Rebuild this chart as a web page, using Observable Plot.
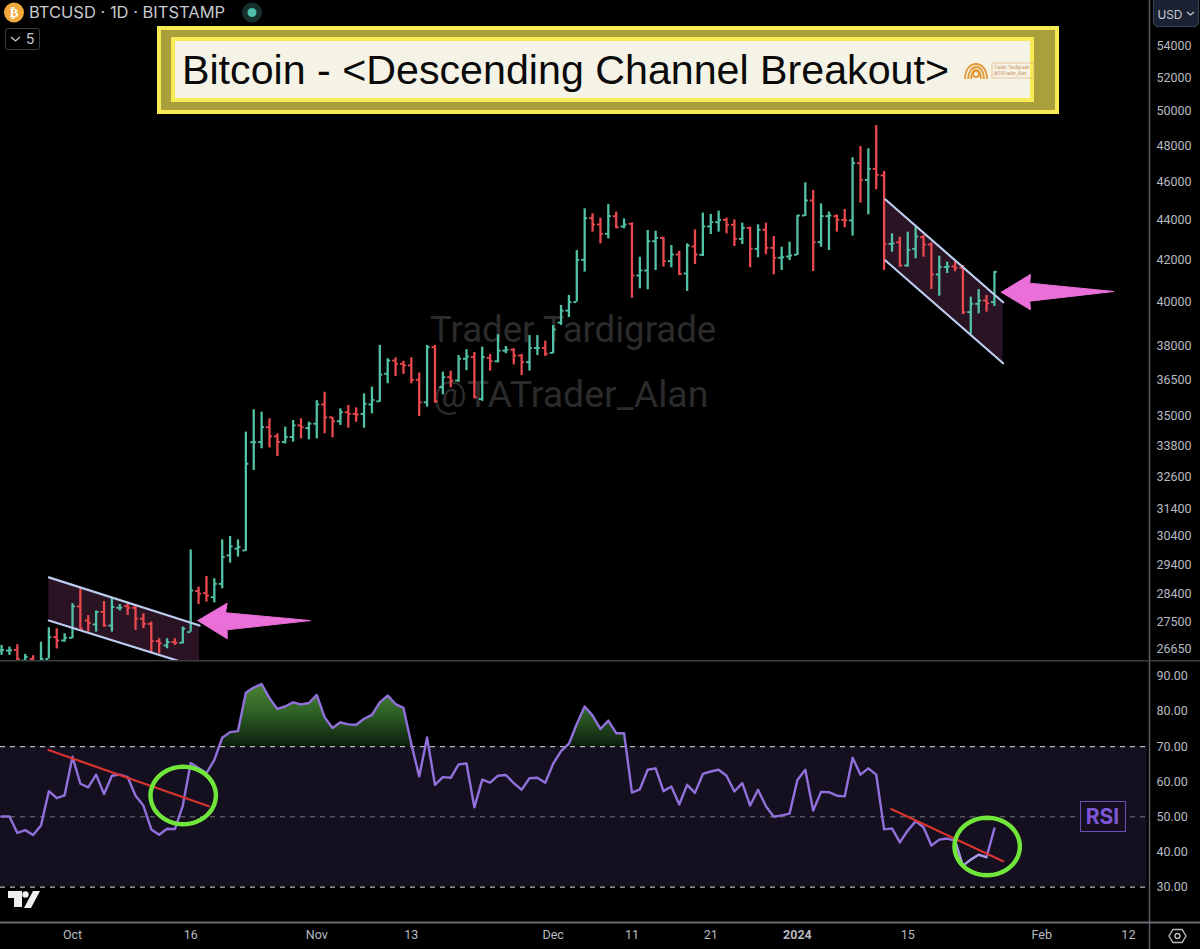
<!DOCTYPE html>
<html>
<head>
<meta charset="utf-8">
<script src="https://cdn.jsdelivr.net/npm/d3@7"></script>
<script src="https://cdn.jsdelivr.net/npm/@observablehq/plot@0.6"></script>
<style>
html,body{margin:0;padding:0;background:#000;}
#page{position:relative;width:1200px;height:949px;overflow:hidden;background:#000;font-family:Inter,sans-serif;}
#page svg{display:block;overflow:hidden;}
#top,#bot{position:absolute;left:0;}
#top{top:0;z-index:2;}
#bot{top:660px;z-index:2;}
.abs{position:absolute;box-sizing:border-box;}
.wm{position:absolute;color:#2b2b2b;font:36.6px Roboto,sans-serif;white-space:nowrap;z-index:1;}
</style>
</head>
<body>
<div id="page">
  <div class="wm" id="wm1" style="left:430px;top:308px;">Trader Tardigrade</div>
  <div class="wm" id="wm2" style="left:433px;top:372px;font-size:37.5px;">@TATrader_Alan</div>
  <div id="top"></div>
  <div id="bot"></div>

  <!-- header -->
  <svg class="abs" style="left:0;top:0;z-index:3;" width="270" height="26">
    <circle cx="14" cy="12.5" r="10" fill="#f0a83a"/>
    <text x="14" y="17" text-anchor="middle" font-family="Roboto" font-weight="700" font-size="13" fill="#fff">₿</text>
    <text x="29" y="18" font-family="Inter" font-size="16.5" fill="#c6c8ce">BTCUSD · 1D · BITSTAMP</text>
    <circle cx="252" cy="12.5" r="10" fill="#16302c"/>
    <circle cx="252" cy="12.5" r="4.5" fill="#4fbfa8"/>
  </svg>
  <div class="abs" style="left:5px;top:28px;width:35px;height:22px;border:1px solid #3a3d46;border-radius:3px;z-index:3;"></div>
  <svg class="abs" style="left:5px;top:28px;z-index:3;" width="35" height="22">
    <path d="M6 9 L10.5 13 L15 9" fill="none" stroke="#c6c8ce" stroke-width="1.3"/>
    <text x="21" y="16" font-family="Inter" font-size="14" fill="#c6c8ce">5</text>
  </svg>
  <div class="abs" style="left:1153px;top:-4px;width:46px;height:31px;border:1px solid #3a4356;border-radius:5px;background:#1b2233;z-index:3;color:#c6c8ce;font:11.8px Inter,sans-serif;line-height:36px;padding-left:3.5px;">USD</div>
  <svg class="abs" style="left:1185px;top:9px;z-index:4;" width="12" height="10"><path d="M2 3 L5.500 6 L9 3" fill="none" stroke="#c6c8ce" stroke-width="1.300"/></svg>

  <!-- banner -->
  <div class="abs" style="left:157px;top:26px;width:902px;height:88px;background:#f6ea55;z-index:3;"></div>
  <div class="abs" style="left:161px;top:30px;width:894px;height:79.5px;background:#a9a03b;z-index:3;"></div>
  <div class="abs" style="left:171px;top:37px;width:863px;height:65px;background:#f6ea55;z-index:3;"></div>
  <div class="abs" id="title" style="left:175px;top:41px;width:855px;height:56.5px;background:#f5f2e6;z-index:3;color:#0a0a0a;font:41.2px 'Liberation Sans',sans-serif;line-height:59px;padding-left:7px;white-space:nowrap;">Bitcoin - &lt;Descending Channel Breakout&gt;</div>
  <svg class="abs" style="left:960px;top:55px;z-index:4;" width="76" height="30">
    <g fill="none" stroke="#e39a36" stroke-width="1.800">
      <path d="M5 24 C5 4 27 4 27 24"/>
      <path d="M8 24 C9 8 24 8 24 24"/>
      <path d="M11 24 C12 12 21 12 21 24"/>
      <circle cx="16" cy="19" r="3"/>
    </g>
    <rect x="32" y="8" width="42" height="15" fill="none" stroke="#e3b27a" stroke-width="0.700"/>
    <text x="34" y="14" font-family="Inter" font-size="4.200" fill="#c58a4a">Trader Tardigrade</text>
    <text x="34" y="20" font-family="Inter" font-size="4.200" fill="#c58a4a">@TATrader_Alan</text>
  </svg>

  <!-- TradingView logo -->
  <svg class="abs" style="left:0;top:880px;z-index:3;" width="50" height="36">
    <g fill="#f0f0f0">
      <path d="M8 11 H22 V27 H14 V18 H8 Z"/>
      <circle cx="25.500" cy="14.500" r="3.200"/>
      <path d="M33 11 H40 L31 28 H24 Z"/>
    </g>
  </svg>
  <!-- settings -->
  <svg class="abs" style="left:1165px;top:924px;z-index:3;" width="26" height="24">
    <path d="M8 5.500 H17 L21 12 L17 18.500 H8 L4 12 Z" fill="none" stroke="#b8bac0" stroke-width="1.400"/>
    <circle cx="12.500" cy="12" r="2.500" fill="none" stroke="#b8bac0" stroke-width="1.400"/>
  </svg>
  <!-- RSI tag -->
  <div class="abs" style="left:1079.500px;top:801px;width:46px;height:31px;border:1.500px solid #6a4fb5;background:#14101f;color:#7e57d4;font:700 21px Inter,sans-serif;text-align:center;line-height:29px;z-index:4;">RSI</div>
</div>

<script>
// Daily bars; the first entry is 22 Sep 2023
const firstDay = Date.UTC(2023, 8, 22);
const opens = [26590,26590,26610,26280,26330,26230,26330,27010,26905,26990,28000,27542,27415,27820,27380,27955,28010,27955,27600,27435,26885,26750,26855,26835,27170,28510,28440,28305,28750,29725,29960,29895,33937,33940,34540,34170,33940,34140,34610,34500,34680,35470,34940,34780,35150,35080,35080,35470,35600,36770,37340,37200,37130,36510,35560,37930,36200,36620,36480,37420,37490,35700,37460,37310,37780,37820,37560,37270,37890,37890,37680,39040,39590,39985,42015,44115,43790,43315,44220,43690,43825,41250,41495,42940,43110,41950,42280,41350,42675,42265,43690,43910,44030,43775,43060,43620,42560,43520,42610,42115,42180,42265,44255,45040,42890,44220,44220,44030,44000,47050,46140,46740,46380,42810,42890,41740,42560,43145,42775,41300,41660,41690,41625,39520,39905,40060,39985];
const highs = [26750,26700,26770,26470,26430,26850,27310,27280,27120,28090,28585,27705,27850,28160,28280,28060,28085,28030,27760,27490,26960,26960,26960,27330,29915,28640,29000,28920,30270,30390,30270,34340,35250,35150,34880,34270,34540,34810,34880,34740,35630,35980,34940,35290,35430,35330,35910,36200,38010,37420,37460,37310,37460,36800,38010,38010,36840,36880,37560,37820,37700,37930,37610,38490,37960,37860,37610,38450,38450,38200,38900,39830,40300,42480,44600,44345,44115,44830,44430,44080,43875,42145,43485,43450,43145,42725,42445,42810,43520,44380,44310,44485,44115,44030,43860,43655,43775,43860,43180,42640,42890,44255,45980,45570,44860,44430,44290,44565,47350,47980,47850,49170,46600,43315,43145,43400,43655,43230,42860,42195,41900,41900,41740,40220,40580,40300,41430];
const lows = [26440,26440,26150,26150,26100,26280,26330,26640,26850,26960,27280,27170,27170,27330,27170,27850,27705,27225,27280,26490,26490,26645,26750,26800,27170,28060,28140,28120,28585,29455,29665,29870,32833,33675,33710,33370,33870,33940,34070,34030,34070,34270,34110,34610,34500,34740,34500,35080,35560,36340,36650,36740,36340,34970,35360,35520,35870,36170,36400,36900,35700,35600,36880,37240,37640,37150,36690,36880,37560,37520,37640,38910,39270,39985,41415,43400,42810,43060,43570,43570,40170,40615,40565,41495,41660,41625,41250,40490,41785,42180,43280,43400,43315,42675,42775,41625,42115,42265,41285,41495,41980,42230,44205,41445,42640,42480,43400,43620,43200,44900,44290,45610,41495,42395,41660,41660,42065,42145,40580,40265,41350,41430,39410,38500,39440,39520,39785];
const closes = [26610,26600,26330,26390,26200,26330,27010,26905,26990,28000,27280,27460,27820,27380,27980,27960,27955,27600,27435,26885,26820,26855,26835,27280,28530,28420,28360,28750,29665,30040,30015,33090,33937,34540,34170,33940,34140,34610,34540,34680,35470,34940,34780,35150,35080,35050,35500,35660,36735,37340,37200,37130,36510,35560,37930,35600,36620,36480,37420,37520,35770,37490,37310,37780,37820,37560,37270,37890,37900,37640,38720,39590,39980,42015,44115,43790,43315,44220,43655,43790,41250,41495,42940,43110,41950,42280,41330,42725,42280,43690,43910,44030,43775,43060,43620,42560,43520,42610,42115,42145,42230,44255,45040,42890,44220,44255,44030,44000,47050,46140,46740,46415,42810,42830,41740,42510,43180,42775,41300,41660,41690,41625,39520,39905,40060,39935,41430];

const rsiValues = [50.1,50.1,45.4,46.2,44.8,47.5,57.3,55.3,56.1,67.1,59.4,58.4,62.0,56.5,61.7,62.0,61.3,56.0,53.2,46.4,44.9,46.6,46.5,53.2,65.3,63.9,62.4,66.2,72.5,74.1,74.4,85.3,86.8,87.8,83.8,80.7,81.4,82.6,82.0,82.4,84.7,78.3,75.3,76.9,76.3,76.2,77.9,79.0,82.6,84.5,82.1,81.0,70.7,61.5,72.6,59.1,61.3,61.1,64.9,65.2,52.7,60.6,59.7,61.7,61.9,59.6,57.7,61.0,61.1,59.7,65.1,68.7,70.8,76.4,81.4,78.8,75.0,77.4,73.8,73.8,56.9,57.8,63.4,63.8,57.3,58.6,53.5,59.1,56.8,62.2,62.9,63.4,61.7,57.2,59.6,53.2,57.7,53.0,50.0,50.4,50.9,60.5,63.4,51.8,57.1,57.0,56.0,55.8,66.8,62.0,63.8,62.0,46.4,46.7,42.7,46.1,48.7,47.0,41.8,43.5,43.8,43.2,36.1,37.8,39.2,38.5,46.7];

const priceTicks = [54000,52000,50000,48000,46000,44000,42000,40000,38000,36500,35000,33800,32600,31400,30400,29400,28400,27500,26650];
const rsiTicks = [90,80,70,60,50,40,30];
const timeTicks = [[2023,9,1,"Oct"],[2023,9,16,"16"],[2023,10,1,"Nov"],[2023,10,13,"13"],[2023,11,1,"Dec"],[2023,11,11,"11"],[2023,11,21,"21"],[2024,0,1,"2024"],[2024,0,15,"15"],[2024,1,1,"Feb"],[2024,1,12,"12"]];

// Annotations, in days from 1 Oct 2023 and in price or RSI units
const oct1 = Date.UTC(2023, 9, 1);
const when = d => new Date(oct1 + d * 864e5);
const channelA = [{d:-3.0,top:28970,bot:27540},{d:16.12,top:27380,bot:26067}];
const channelB = [{d:103.17,top:45090,bot:41982},{d:118.1,top:39980,bot:37224}];
const arrowA = [[15.9,27540],[19.63,28106],[19.42,27793],[30.2,27540],[19.63,27245],[19.63,26960],[15.9,27540]];
const arrowB = [[117.86,40454],[121.57,41302],[121.48,40882],[132.15,40487],[121.48,40030],[121.57,39630],[117.86,40454]];
const trendA = [[-3.05,69.0],[17.3,53.0]];
const trendB = [[103.9,52.2],[118.1,37.35]];
const ringCenters = [[14.05,56.07],[116.08,41.54]];
const ringRadiusDays = 4.15, ringRadiusRsi = 8.18;

const bars = opens.map((o,i)=>({date:new Date(firstDay+i*864e5),tickL:new Date(firstDay+(i-0.38)*864e5),tickR:new Date(firstDay+(i+0.38)*864e5),o,h:highs[i],l:lows[i],c:closes[i]}));
const rsi = rsiValues.map((v,i)=>({date:new Date(firstDay+i*864e5),v}));
const up = "#52c2a6", down = "#e8484e";
const barColor = d => d.c >= d.o ? up : down;
const xDomain = [when(-9.137), when(136.68)];
const xEnd = when(143.2);

const top_ = Plot.plot({
  width:1200,height:660,marginTop:0,marginBottom:0,marginLeft:0,marginRight:51,
  style:{background:"transparent",color:"#b8bac0",fontFamily:"Roboto,sans-serif",fontSize:"12.5px"},
  x:{type:"utc",domain:xDomain,axis:null},
  y:{type:"log",domain:[26282,56923],axis:null},
  marks:[
    Plot.areaY(channelA,{x:d=>when(d.d),y1:"bot",y2:"top",fill:"#2a1424"}),
    Plot.areaY(channelB,{x:d=>when(d.d),y1:"bot",y2:"top",fill:"#2a1424"}),
    Plot.ruleX(bars,{x:"date",y1:"l",y2:"h",stroke:barColor,strokeWidth:2.3}),
    Plot.ruleY(bars,{y:"o",x1:"tickL",x2:"date",stroke:barColor,strokeWidth:1.9}),
    Plot.ruleY(bars,{y:"c",x1:"date",x2:"tickR",stroke:barColor,strokeWidth:1.9}),
    Plot.line(channelA,{x:d=>when(d.d),y:"top",stroke:"#bccdf0",strokeWidth:2.2}),
    Plot.line(channelA,{x:d=>when(d.d),y:"bot",stroke:"#bccdf0",strokeWidth:2.2}),
    Plot.line(channelB,{x:d=>when(d.d),y:"top",stroke:"#bccdf0",strokeWidth:2.2}),
    Plot.line(channelB,{x:d=>when(d.d),y:"bot",stroke:"#bccdf0",strokeWidth:2.2}),
    Plot.line(arrowA,{x:d=>when(d[0]),y:d=>d[1],fill:"#ea6fd8",stroke:"#ea6fd8",strokeWidth:1,curve:"linear"}),
    Plot.line(arrowB,{x:d=>when(d[0]),y:d=>d[1],fill:"#ea6fd8",stroke:"#ea6fd8",strokeWidth:1,curve:"linear"}),
    Plot.axisY({anchor:"right",ticks:priceTicks,tickFormat:d=>String(d),tickSize:0,tickPadding:7,label:null,textAnchor:"start"}),
    Plot.ruleX([when(136.68)],{stroke:"#5c5e63",strokeWidth:1.5})
  ]
});
document.getElementById("top").append(top_);

const ring = ([cx,cy]) => d3.range(0,361,6).map(a=>({date:when(cx+ringRadiusDays*Math.cos(a*Math.PI/180)),v:cy+ringRadiusRsi*Math.sin(a*Math.PI/180)}));
const tickDates = timeTicks.map(t=>new Date(Date.UTC(t[0],t[1],t[2])));
const tickLabels = new Map(tickDates.map((d,i)=>[+d,timeTicks[i][3]]));

const gradient = () => {
  const ns="http://www.w3.org/2000/svg";
  const defs=document.createElementNS(ns,"defs");
  defs.innerHTML='<linearGradient id="ob" gradientUnits="userSpaceOnUse" x1="0" y1="15" x2="0" y2="88"><stop offset="0" stop-color="#548f38"/><stop offset="0.5" stop-color="#2f6227"/><stop offset="1" stop-color="#0a1a0c"/></linearGradient>';
  return defs;
};

const bot_ = Plot.plot({
  width:1200,height:289,marginTop:0,marginBottom:27,marginLeft:0,marginRight:51,
  style:{background:"transparent",color:"#b8bac0",fontFamily:"Roboto,sans-serif",fontSize:"12.5px"},
  x:{type:"utc",domain:xDomain,axis:null},
  y:{domain:[19.9,94.5],axis:null},
  marks:[
    gradient,
    Plot.areaY(rsi,{x:"date",y1:70,y2:"v",fill:"url(#ob)"}),
    Plot.rectY([{a:when(-9.137),b:when(136.4)}],{x1:"a",x2:"b",y1:30,y2:70,fill:"#14101f"}),
    Plot.ruleY([70,30],{stroke:"#b5b5b5",strokeWidth:1.2,strokeDasharray:"5,5"}),
    Plot.ruleY([50],{stroke:"#7a7a80",strokeWidth:1,strokeDasharray:"5,5"}),
    Plot.line(rsi,{x:"date",y:"v",stroke:"#9270dc",strokeWidth:2.4,curve:"linear"}),
    Plot.line(rsi.slice(121,126),{x:"date",y:"v",stroke:"#a79de0",strokeWidth:2,curve:"linear"}),
    Plot.line(trendA,{x:d=>when(d[0]),y:d=>d[1],stroke:"#d8342f",strokeWidth:2.2}),
    Plot.line(trendB,{x:d=>when(d[0]),y:d=>d[1],stroke:"#d8342f",strokeWidth:2.2}),
    ...ringCenters.map(c=>Plot.line(ring(c),{x:"date",y:"v",stroke:"#70e63a",strokeWidth:4.4})),
    Plot.axisY({anchor:"right",ticks:rsiTicks,tickFormat:d=>d.toFixed(2),tickSize:0,tickPadding:7,label:null,textAnchor:"start"}),
    Plot.axisX({anchor:"bottom",ticks:tickDates,tickFormat:d=>tickLabels.get(+d),tickSize:0,tickPadding:8,label:null}),
    Plot.ruleX([when(136.68)],{y1:12.2,y2:94.5,stroke:"#5c5e63",strokeWidth:1.5}),
    Plot.ruleY([19.9],{x1:when(-9.137),x2:xEnd,stroke:"#6b6d72",strokeWidth:2}),
    Plot.ruleY([94.5],{x1:when(-9.137),x2:xEnd,stroke:"#3a3c40",strokeWidth:2})
  ]
});
document.getElementById("bot").append(bot_);
// "2024" is bold in the time axis
bot_.querySelectorAll("text").forEach(t=>{if(t.textContent==="2024")t.setAttribute("font-weight","700");});
</script>
</body>
</html>
